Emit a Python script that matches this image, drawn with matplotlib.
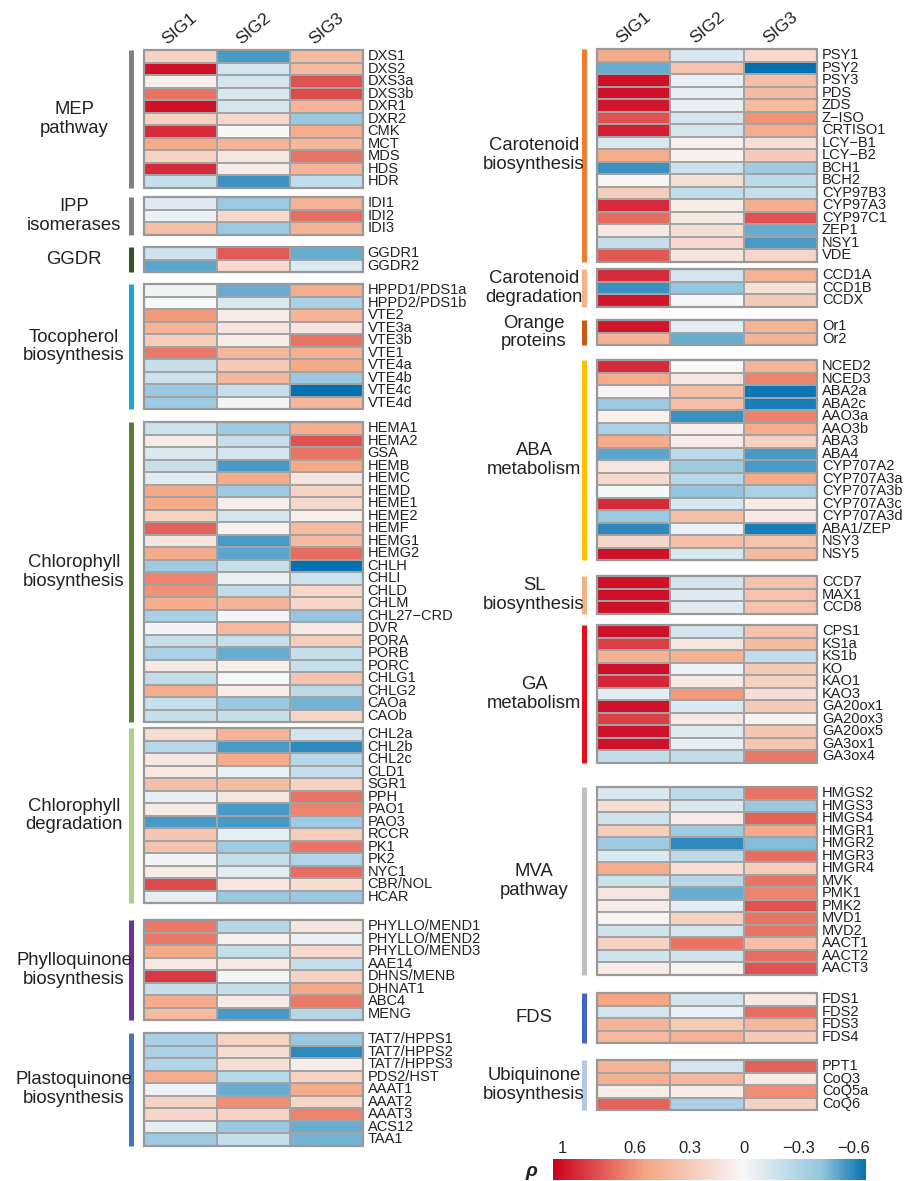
import numpy as np
import matplotlib.pyplot as plt
from matplotlib.colors import LinearSegmentedColormap, Normalize
from matplotlib.cm import ScalarMappable
from matplotlib.patches import Rectangle

plt.rcParams['font.family'] = ['Liberation Sans', 'DejaVu Sans']

samples = ['SIG1', 'SIG2', 'SIG3']

# ---------------- left column ----------------
mep_genes = ['DXS1', 'DXS2', 'DXS3a', 'DXS3b', 'DXR1', 'DXR2', 'CMK', 'MCT', 'MDS', 'HDS', 'HDR']
mep_rho = [[0.25, -0.55, 0.40], [1.00, -0.15, 0.40], [0.05, -0.15, 0.80], [0.70, -0.12, 0.82],
           [1.00, -0.15, 0.45], [0.25, 0.22, -0.40], [0.92, 0.00, 0.50], [0.52, 0.45, 0.42],
           [0.25, 0.12, 0.70], [0.92, 0.08, 0.45], [-0.20, -0.57, -0.22]]

ipp_genes = ['IDI1', 'IDI2', 'IDI3']
ipp_rho = [[-0.10, -0.40, 0.47], [-0.05, 0.20, 0.72], [0.38, -0.40, 0.45]]

ggdr_genes = ['GGDR1', 'GGDR2']
ggdr_rho = [[-0.17, 0.78, -0.50], [-0.52, 0.20, -0.12]]

toco_genes = ['HPPD1/PDS1a', 'HPPD2/PDS1b', 'VTE2', 'VTE3a', 'VTE3b', 'VTE1',
              'VTE4a', 'VTE4b', 'VTE4c', 'VTE4d']
toco_rho = [[-0.03, -0.50, 0.50], [0.00, -0.12, -0.33], [0.58, 0.08, 0.45], [0.45, 0.12, 0.12],
            [0.28, 0.08, 0.70], [0.68, 0.43, 0.48], [-0.20, 0.30, 0.52], [-0.18, 0.42, -0.40],
            [-0.40, -0.20, -0.68], [-0.38, -0.02, 0.42]]

chlb_genes = ['HEMA1', 'HEMA2', 'GSA', 'HEMB', 'HEMC', 'HEMD', 'HEME1', 'HEME2', 'HEMF',
              'HEMG1', 'HEMG2', 'CHLH', 'CHLI', 'CHLD', 'CHLM', 'CHL27\u2212CRD', 'DVR',
              'PORA', 'PORB', 'PORC', 'CHLG1', 'CHLG2', 'CAOa', 'CAOb']
chlb_rho = [[-0.18, -0.38, 0.48], [0.08, -0.20, 0.80], [-0.12, -0.15, 0.70], [-0.20, -0.55, 0.52],
            [-0.10, 0.50, 0.12], [0.52, -0.38, 0.25], [0.50, 0.06, 0.20], [0.25, -0.15, 0.05],
            [0.75, 0.05, 0.40], [0.12, -0.55, 0.40], [0.50, -0.52, 0.72], [-0.38, -0.20, -0.68],
            [0.65, -0.06, -0.18], [0.60, -0.22, 0.22], [0.50, 0.45, 0.22], [-0.33, -0.02, -0.42],
            [-0.02, 0.42, 0.10], [-0.20, -0.20, 0.28], [-0.33, -0.50, -0.20], [0.10, 0.05, -0.20],
            [-0.22, 0.00, 0.35], [0.50, 0.08, -0.25], [-0.20, -0.40, -0.48], [-0.20, -0.20, 0.22]]

chld_genes = ['CHL2a', 'CHL2b', 'CHL2c', 'CLD1', 'SGR1', 'PPH', 'PAO1', 'PAO3', 'RCCR',
              'PK1', 'PK2', 'NYC1', 'CBR/NOL', 'HCAR']
chld_rho = [[0.18, 0.45, -0.15], [-0.28, -0.55, -0.60], [0.10, 0.50, -0.28], [0.10, -0.06, -0.20],
            [0.38, 0.40, 0.25], [-0.07, 0.12, 0.70], [0.08, -0.55, 0.65], [-0.55, -0.55, -0.38],
            [0.33, -0.08, 0.28], [0.35, -0.38, 0.70], [-0.02, -0.20, -0.30], [0.08, -0.08, 0.72],
            [0.82, 0.12, 0.18], [-0.07, -0.40, -0.40]]

phyl_genes = ['PHYLLO/MEND1', 'PHYLLO/MEND2', 'PHYLLO/MEND3', 'AAE14', 'DHNS/MENB',
              'DHNAT1', 'ABC4', 'MENG']
phyl_rho = [[0.68, -0.28, 0.12], [0.68, 0.04, -0.06], [0.52, -0.20, 0.20], [0.10, 0.10, -0.20],
            [0.88, -0.02, 0.25], [-0.20, -0.20, 0.52], [0.50, 0.08, 0.68], [0.40, -0.55, -0.28]]

plas_genes = ['TAT7/HPPS1', 'TAT7/HPPS2', 'TAT7/HPPS3', 'PDS2/HST', 'AAAT1', 'AAAT2',
              'AAAT3', 'ACS12', 'TAA1']
plas_rho = [[-0.33, 0.25, -0.40], [-0.33, 0.18, -0.60], [-0.30, 0.15, 0.06], [0.50, -0.28, 0.25],
            [-0.05, -0.50, 0.50], [0.25, 0.62, 0.22], [0.22, 0.25, 0.65], [-0.08, -0.40, -0.50],
            [-0.38, -0.20, -0.48]]

# ---------------- right column ----------------
carb_genes = ['PSY1', 'PSY2', 'PSY3', 'PDS', 'ZDS', 'Z\u2212ISO', 'CRTISO1', 'LCY\u2212B1',
              'LCY\u2212B2', 'BCH1', 'BCH2', 'CYP97B3', 'CYP97A3', 'CYP97C1', 'ZEP1', 'NSY1', 'VDE']
carb_rho = [[0.50, -0.12, 0.20], [-0.50, 0.35, -0.67], [1.00, -0.07, 0.38], [1.00, -0.07, 0.40],
            [0.98, -0.06, 0.40], [0.80, -0.15, 0.60], [0.95, -0.15, 0.50], [-0.12, 0.05, 0.15],
            [0.50, 0.03, 0.30], [-0.58, -0.18, -0.38], [0.02, 0.15, -0.25], [0.28, -0.22, -0.20],
            [0.92, 0.08, 0.48], [0.72, 0.10, 0.80], [0.10, 0.15, -0.50], [-0.20, 0.20, -0.55],
            [0.78, 0.12, 0.22]]

card_genes = ['CCD1A', 'CCD1B', 'CCDX']
card_rho = [[0.92, -0.15, 0.47], [-0.58, -0.42, 0.15], [0.98, 0.00, 0.30]]

or_genes = ['Or1', 'Or2']
or_rho = [[0.98, -0.08, 0.45], [0.45, -0.50, 0.45]]

aba_genes = ['NCED2', 'NCED3', 'ABA2a', 'ABA2c', 'AAO3a', 'AAO3b', 'ABA3', 'ABA4', 'CYP707A2',
             'CYP707A3a', 'CYP707A3b', 'CYP707A3c', 'CYP707A3d', 'ABA1/ZEP', 'NSY3', 'NSY5']
aba_rho = [[0.92, -0.01, 0.45], [0.50, 0.12, 0.65], [0.02, 0.38, -0.65], [-0.40, 0.38, -0.63],
           [0.05, -0.58, 0.65], [-0.33, 0.06, 0.50], [0.50, 0.07, 0.25], [-0.52, -0.25, -0.55],
           [0.12, -0.38, -0.55], [0.20, -0.28, 0.52], [0.00, -0.42, -0.33], [0.92, -0.13, 0.08],
           [-0.40, 0.38, 0.10], [-0.60, -0.05, -0.63], [0.22, 0.38, 0.35], [1.00, -0.13, 0.40]]

sl_genes = ['CCD7', 'MAX1', 'CCD8']
sl_rho = [[1.00, -0.15, 0.35], [1.00, -0.10, 0.35], [1.00, -0.10, 0.35]]

ga_genes = ['CPS1', 'KS1a', 'KS1b', 'KO', 'KAO1', 'KAO3', 'GA20ox1', 'GA20ox3', 'GA20ox5',
            'GA3ox1', 'GA3ox4']
ga_rho = [[1.00, -0.15, 0.35], [0.85, 0.12, 0.40], [0.47, 0.47, -0.22], [1.00, -0.05, 0.30],
          [0.93, 0.10, 0.25], [-0.08, 0.58, 0.15], [0.99, -0.12, 0.30], [0.85, 0.10, 0.03],
          [0.99, -0.10, 0.32], [0.99, -0.07, 0.32], [-0.22, -0.22, 0.68]]

mva_genes = ['HMGS2', 'HMGS3', 'HMGS4', 'HMGR1', 'HMGR2', 'HMGR3', 'HMGR4', 'MVK', 'PMK1',
             'PMK2', 'MVD1', 'MVD2', 'AACT1', 'AACT2', 'AACT3']
mva_rho = [[-0.12, -0.25, 0.70], [0.15, -0.12, -0.40], [-0.17, 0.08, 0.75], [0.28, -0.38, 0.52],
           [-0.38, -0.60, -0.45], [-0.12, -0.25, 0.72], [0.50, 0.15, 0.28], [-0.18, -0.28, 0.70],
           [0.12, -0.50, 0.65], [0.07, -0.08, 0.80], [0.02, 0.25, 0.70], [-0.17, -0.15, 0.70],
           [0.25, 0.70, 0.38], [-0.17, -0.17, 0.72], [0.08, 0.03, 0.80]]

fds_genes = ['FDS1', 'FDS2', 'FDS3', 'FDS4']
fds_rho = [[0.55, -0.15, 0.10], [-0.15, -0.06, 0.72], [0.45, 0.30, 0.42], [0.42, 0.47, 0.30]]

ubi_genes = ['PPT1', 'CoQ3', 'CoQ5a', 'CoQ6']
ubi_rho = [[0.45, -0.15, 0.75], [0.48, 0.42, 0.07], [0.08, 0.08, 0.62], [0.75, -0.33, 0.25]]

# groups: (label, genes, values, side bar colour)
left_groups = [
    ('MEP\npathway', mep_genes, mep_rho, '#808080'),
    ('IPP\nisomerases', ipp_genes, ipp_rho, '#808080'),
    ('GGDR', ggdr_genes, ggdr_rho, '#375623'),
    ('Tocopherol\nbiosynthesis', toco_genes, toco_rho, '#1aa7dc'),
    ('Chlorophyll\nbiosynthesis', chlb_genes, chlb_rho, '#548235'),
    ('Chlorophyll\ndegradation', chld_genes, chld_rho, '#a9d18e'),
    ('Phylloquinone\nbiosynthesis', phyl_genes, phyl_rho, '#7030a0'),
    ('Plastoquinone\nbiosynthesis', plas_genes, plas_rho, '#4472c4'),
]
right_groups = [
    ('Carotenoid\nbiosynthesis', carb_genes, carb_rho, '#ed7d31'),
    ('Carotenoid\ndegradation', card_genes, card_rho, '#f4b183'),
    ('Orange\nproteins', or_genes, or_rho, '#c55a11'),
    ('ABA\nmetabolism', aba_genes, aba_rho, '#ffc000'),
    ('SL\nbiosynthesis', sl_genes, sl_rho, '#f4b183'),
    ('GA\nmetabolism', ga_genes, ga_rho, '#e3101c'),
    ('MVA\npathway', mva_genes, mva_rho, '#bfbfbf'),
    ('FDS', fds_genes, fds_rho, '#3f66c4'),
    ('Ubiquinone\nbiosynthesis', ubi_genes, ubi_rho, '#b4c7e7'),
]

# layout (pixels)
W, H = 914, 1181
ROW_H = 12.5
left_tops = [50, 197, 247, 284, 422, 728, 920, 1033]
right_tops = [49, 269, 320, 360, 576, 625, 787, 993, 1060]

# colour scale
vmin, vmax = -0.67, 1.05
nodes = [(-0.67, '#0571b0'), (-0.43, '#92c5de'), (0.0, '#f7f7f7'), (0.55, '#f4a582'), (1.05, '#ca0020')]
cmap = LinearSegmentedColormap.from_list('rho', [((v - vmin) / (vmax - vmin), c) for v, c in nodes])
norm = Normalize(vmin=vmin, vmax=vmax)

fig = plt.figure(figsize=(W / 100, H / 100), dpi=100)
ax = fig.add_axes([0, 0, 1, 1])
ax.set_xlim(0, W)
ax.set_ylim(H, 0)
ax.axis('off')


def draw_column(groups, tops, x0, x1, bar_x, label_x):
    xe = np.linspace(x0, x1, len(samples) + 1)
    for (name, genes, rho, color), top in zip(groups, tops):
        n = len(genes)
        ye = top + ROW_H * np.arange(n + 1)
        ax.pcolormesh(xe, ye, np.array(rho), cmap=cmap, norm=norm,
                      edgecolors='#a3a3a3', linewidth=1.1)
        ax.add_patch(Rectangle((x0, top), x1 - x0, n * ROW_H, fill=False,
                               ec='#999999', lw=1.6, zorder=3))
        for i, g in enumerate(genes):
            ax.text(x1 + 5, top + (i + 0.5) * ROW_H, g, ha='left', va='center',
                    fontsize=10.5, color='#222222')
        ax.plot([bar_x, bar_x], [top, top + n * ROW_H], color=color, lw=3.6,
                solid_capstyle='butt')
        ax.text(label_x, top + n * ROW_H / 2, name, ha='center', va='center',
                fontsize=13.3, color='#222222', linespacing=1.12)
    for j, s in enumerate(samples):
        ax.text((xe[j] + xe[j + 1]) / 2, tops[0] - 21, s, rotation=40,
                ha='center', va='center', fontsize=12.5, color='#222222')


draw_column(left_groups, left_tops, 143.5, 362.5, 130.5, 74)
draw_column(right_groups, right_tops, 597, 817, 583.5, 534)

# colour bar
cax = fig.add_axes([553 / W, 1 / H, 313 / W, 21 / H])
cb = fig.colorbar(ScalarMappable(norm=norm, cmap=cmap), cax=cax, orientation='horizontal')
cb.outline.set_visible(False)
cax.invert_xaxis()
cax.xaxis.set_ticks_position('top')
cb.set_ticks([1, 0.6, 0.3, 0, -0.3, -0.6])
cb.set_ticklabels(['1', '0.6', '0.3', '0', '\u22120.3', '\u22120.6'])
cax.tick_params(length=0, pad=2, labelsize=12, labelcolor='#222222')
ax.text(531, 1171, '\u03c1', ha='center', va='center', fontsize=14,
        fontweight='bold', fontstyle='italic', color='#222222')

fig.savefig('out.png', dpi=100)
